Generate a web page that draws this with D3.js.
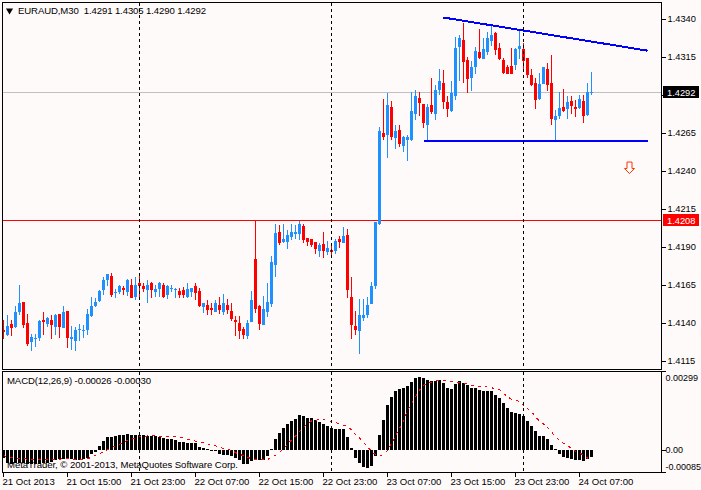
<!DOCTYPE html>
<html><head><meta charset="utf-8">
<script src="https://cdnjs.cloudflare.com/ajax/libs/d3/7.8.5/d3.min.js"></script>
<style>
html,body{margin:0;padding:0;background:#fffafa;overflow:hidden}
svg{display:block}
text{font-family:"Liberation Sans",Arial,sans-serif;font-size:9.6px;fill:#000}
.tick text{font-size:9.3px}
</style></head><body><svg id="c" width="701" height="490"></svg>
<script>
const opens=[1.41355,1.41322,1.41395,1.41375,1.41474,1.41539,1.41401,1.41276,1.41298,1.41303,
1.41421,1.41395,1.41421,1.41375,1.41460,1.41368,1.41480,1.41296,1.41283,1.41355,
1.41349,1.41355,1.41447,1.41513,1.41546,1.41618,1.41684,1.41710,1.41598,1.41605,
1.41631,1.41605,1.41651,1.41572,1.41664,1.41644,1.41618,1.41664,1.41605,1.41625,
1.41651,1.41585,1.41625,1.41618,1.41612,1.41615,1.41571,1.41604,1.41644,1.41611,
1.41506,1.41519,1.41499,1.41473,1.41519,1.41473,1.41519,1.41479,1.41420,1.41401,
1.41361,1.41315,1.41407,1.41821,1.41512,1.41387,1.41473,1.41525,1.41782,1.41998,
1.41933,1.41933,1.41966,1.41985,1.41985,1.42038,1.41959,1.41952,1.41933,1.41874,
1.41920,1.41867,1.41880,1.41874,1.41952,1.41926,1.41979,1.41571,1.41381,1.41348,
1.41433,1.41453,1.41525,1.41644,1.42051,1.42651,1.42638,1.42822,1.42618,1.42671,
1.42565,1.42605,1.42605,1.42776,1.42881,1.42841,1.42703,1.42835,1.42776,1.42933,
1.42979,1.42855,1.42795,1.42894,1.43216,1.43262,1.43130,1.43012,1.43085,1.43183,
1.43137,1.43183,1.43255,1.43308,1.43209,1.43130,1.43085,1.43091,1.43098,1.43203,
1.43203,1.43144,1.43032,1.42979,1.42874,1.42973,1.43071,1.42979,1.42736,1.42763,
1.42822,1.42809,1.42861,1.42822,1.42815,1.42861,1.42769,1.42910];
const highs=[1.41421,1.41454,1.41421,1.41513,1.41651,1.41539,1.41460,1.41329,1.41329,1.41421,
1.41474,1.41441,1.41454,1.41460,1.41460,1.41513,1.41480,1.41382,1.41375,1.41395,
1.41388,1.41493,1.41572,1.41566,1.41618,1.41704,1.41723,1.41730,1.41625,1.41651,
1.41644,1.41690,1.41690,1.41704,1.41723,1.41664,1.41684,1.41671,1.41651,1.41671,
1.41664,1.41651,1.41651,1.41631,1.41631,1.41635,1.41661,1.41631,1.41661,1.41628,
1.41532,1.41552,1.41532,1.41552,1.41571,1.41591,1.41558,1.41532,1.41447,1.41447,
1.41374,1.41420,1.41611,1.42073,1.41519,1.41578,1.41663,1.41841,1.42051,1.42044,
1.42051,1.42012,1.42051,1.42044,1.42071,1.42051,1.41959,1.41952,1.41933,1.41926,
1.41998,1.41939,1.41906,1.41952,1.41972,1.42031,1.42018,1.41703,1.41479,1.41558,
1.41558,1.41571,1.41670,1.42064,1.42692,1.42874,1.42914,1.42861,1.42703,1.42703,
1.42631,1.42638,1.42920,1.42933,1.42920,1.42841,1.42841,1.43012,1.42966,1.43071,
1.43065,1.42894,1.42993,1.43282,1.43295,1.43374,1.43150,1.43124,1.43216,1.43334,
1.43275,1.43314,1.43360,1.43314,1.43242,1.43144,1.43098,1.43209,1.43209,1.43334,
1.43242,1.43144,1.43071,1.43012,1.43045,1.43085,1.43111,1.43163,1.42802,1.42920,
1.42940,1.42894,1.42894,1.42868,1.42901,1.42901,1.42979,1.43050];
const lows=[1.41298,1.41316,1.41316,1.41368,1.41454,1.41368,1.41246,1.41217,1.41244,1.41283,
1.41322,1.41375,1.41296,1.41322,1.41303,1.41368,1.41237,1.41224,1.41217,1.41283,
1.41303,1.41322,1.41441,1.41506,1.41539,1.41585,1.41644,1.41572,1.41566,1.41592,
1.41585,1.41579,1.41566,1.41552,1.41572,1.41605,1.41533,1.41566,1.41572,1.41572,
1.41566,1.41559,1.41605,1.41566,1.41566,1.41567,1.41567,1.41571,1.41552,1.41506,
1.41466,1.41453,1.41453,1.41473,1.41460,1.41453,1.41460,1.41414,1.41315,1.41295,
1.41295,1.41295,1.41407,1.41466,1.41355,1.41387,1.41440,1.41506,1.41703,1.41913,
1.41926,1.41887,1.41946,1.41952,1.41946,1.41926,1.41906,1.41900,1.41854,1.41834,
1.41828,1.41847,1.41841,1.41854,1.41893,1.41926,1.41565,1.41295,1.41322,1.41197,
1.41414,1.41433,1.41525,1.41624,1.42044,1.42601,1.42487,1.42605,1.42546,1.42559,
1.42526,1.42467,1.42598,1.42736,1.42763,1.42684,1.42598,1.42776,1.42736,1.42901,
1.42809,1.42756,1.42789,1.42868,1.42993,1.42979,1.42914,1.42927,1.43039,1.43137,
1.43137,1.43163,1.43222,1.43163,1.43130,1.43039,1.43039,1.43039,1.43065,1.43137,
1.43065,1.43012,1.42960,1.42809,1.42868,1.42973,1.42927,1.42703,1.42605,1.42743,
1.42789,1.42743,1.42776,1.42756,1.42809,1.42717,1.42763,1.42900];
const closes=[1.41338,1.41382,1.41368,1.41474,1.41533,1.41388,1.41263,1.41309,1.41303,1.41414,
1.41408,1.41434,1.41388,1.41454,1.41375,1.41474,1.41303,1.41309,1.41355,1.41362,
1.41355,1.41460,1.41513,1.41539,1.41612,1.41684,1.41723,1.41585,1.41605,1.41644,
1.41618,1.41684,1.41566,1.41651,1.41644,1.41625,1.41651,1.41618,1.41625,1.41664,
1.41572,1.41644,1.41631,1.41625,1.41585,1.41585,1.41624,1.41631,1.41598,1.41512,
1.41532,1.41486,1.41486,1.41532,1.41486,1.41532,1.41486,1.41427,1.41407,1.41348,
1.41322,1.41401,1.41552,1.41493,1.41394,1.41493,1.41539,1.41801,1.41992,1.41926,
1.41952,1.41979,1.41998,1.41998,1.42051,1.41946,1.41933,1.41913,1.41887,1.41913,
1.41874,1.41893,1.41867,1.41939,1.41933,1.41972,1.41617,1.41387,1.41355,1.41453,
1.41453,1.41519,1.41644,1.42064,1.42664,1.42625,1.42835,1.42625,1.42664,1.42579,
1.42625,1.42625,1.42795,1.42894,1.42848,1.42717,1.42822,1.42789,1.42933,1.42993,
1.42855,1.42809,1.42914,1.43209,1.43275,1.43117,1.43006,1.43085,1.43190,1.43144,
1.43203,1.43275,1.43295,1.43196,1.43137,1.43045,1.43039,1.43039,1.43203,1.43222,
1.43124,1.43032,1.42966,1.42868,1.42973,1.43085,1.42966,1.42743,1.42763,1.42815,
1.42795,1.42855,1.42828,1.42809,1.42874,1.42763,1.42920,1.42920];
const macdHist=[-0.00029,-0.00050,-0.00053,-0.00050,-0.00050,-0.00050,-0.00053,-0.00053,-0.00053,-0.00053,
-0.00050,-0.00047,-0.00044,-0.00038,-0.00034,-0.00032,-0.00029,-0.00034,-0.00036,-0.00036,
-0.00032,-0.00030,-0.00016,-0.00006,0.00017,0.00034,0.00050,0.00050,0.00054,0.00057,
0.00057,0.00061,0.00057,0.00057,0.00057,0.00057,0.00054,0.00053,0.00052,0.00050,
0.00048,0.00042,0.00042,0.00039,0.00032,0.00030,0.00029,0.00028,0.00028,0.00013,
0.00010,0.00003,-0.00001,-0.00004,-0.00016,-0.00017,-0.00019,-0.00021,-0.00029,-0.00038,
-0.00052,-0.00053,-0.00042,-0.00034,-0.00037,-0.00037,-0.00023,0.00006,0.00042,0.00064,
0.00084,0.00099,0.00111,0.00120,0.00132,0.00129,0.00124,0.00124,0.00114,0.00107,
0.00099,0.00091,0.00084,0.00080,0.00080,0.00080,0.00050,0.00010,-0.00030,-0.00050,
-0.00064,-0.00067,-0.00061,-0.00024,0.00057,0.00114,0.00171,0.00201,0.00224,0.00232,
0.00238,0.00243,0.00260,0.00274,0.00277,0.00273,0.00266,0.00263,0.00264,0.00266,
0.00257,0.00238,0.00233,0.00250,0.00263,0.00257,0.00247,0.00236,0.00236,0.00228,
0.00224,0.00224,0.00224,0.00211,0.00197,0.00179,0.00162,0.00144,0.00140,0.00137,
0.00129,0.00110,0.00091,0.00073,0.00053,0.00053,0.00042,0.00019,0.00003,-0.00016,
-0.00027,-0.00030,-0.00034,-0.00037,-0.00037,-0.00042,-0.00032,-0.00026];
const macdSignal=[-0.00021,-0.00024,-0.00027,-0.00029,-0.00032,-0.00033,-0.00034,-0.00036,-0.00036,-0.00037,
-0.00037,-0.00037,-0.00036,-0.00036,-0.00034,-0.00033,-0.00033,-0.00034,-0.00036,-0.00036,
-0.00036,-0.00033,-0.00027,-0.00020,-0.00014,-0.00006,0.00001,0.00009,0.00016,0.00023,
0.00030,0.00037,0.00042,0.00047,0.00050,0.00053,0.00054,0.00054,0.00054,0.00053,
0.00052,0.00052,0.00050,0.00050,0.00048,0.00046,0.00042,0.00038,0.00034,0.00030,
0.00028,0.00024,0.00019,0.00016,0.00011,0.00007,0.00003,-0.00001,-0.00009,-0.00016,
-0.00021,-0.00027,-0.00033,-0.00036,-0.00036,-0.00037,-0.00036,-0.00027,-0.00019,-0.00010,
0.00006,0.00021,0.00039,0.00054,0.00070,0.00086,0.00101,0.00111,0.00114,0.00116,
0.00116,0.00113,0.00109,0.00106,0.00100,0.00095,0.00090,0.00077,0.00058,0.00047,
0.00029,0.00013,-0.00004,-0.00017,-0.00021,-0.00017,0.00000,0.00026,0.00053,0.00083,
0.00110,0.00152,0.00177,0.00203,0.00228,0.00247,0.00254,0.00257,0.00263,0.00263,
0.00264,0.00263,0.00260,0.00257,0.00256,0.00253,0.00251,0.00247,0.00244,0.00243,
0.00242,0.00240,0.00237,0.00234,0.00230,0.00216,0.00203,0.00194,0.00190,0.00184,
0.00169,0.00157,0.00146,0.00127,0.00111,0.00099,0.00086,0.00070,0.00050,0.00038,
0.00026,0.00017,0.00006,-0.00004,-0.00010,-0.00019,-0.00030,-0.00030];
const priceTicks=[1.4340,1.4315,1.4290,1.4265,1.4240,1.4215,1.4190,1.4165,1.4140,1.4115];
const macdTicks=[0.00299,0,-0.00085];
const macdTickLabels=["0.00299","0.00","-0.00085"];
const timeTickBars=[0,16,32,48,64,80,96,112,128,144];
const timeTickLabels=["21 Oct 2013","21 Oct 15:00","21 Oct 23:00","22 Oct 07:00","22 Oct 15:00","22 Oct 23:00","23 Oct 07:00","23 Oct 15:00","23 Oct 23:00","24 Oct 07:00"];
const daySeparators=[34,82,130];
const lastPrice=1.4292, levelPrice=1.4208;
const trendBars=[110,161], trendPrices=[1.43413,1.43195];
const supportBars=[105,161], supportPrice=1.42600;
const arrowBar=156.5, arrowPrice=1.42426;
const titleText="EURAUD,M30  1.4291 1.4305 1.4290 1.4292";
const macdText="MACD(12,26,9) -0.00026 -0.00030";
const copyText="MetaTrader, \u00A9 2001-2013, MetaQuotes Software Corp.";

const BG="#fffafa",BLUE="#1e90ff",RED="#ff0000";
const svg=d3.select("#c");
const L=2.5,R=661.5,T1=2.5,B1=369.5,T2=371.5,B2=472.5;
const x=d3.scaleLinear().domain([0,147]).range([3.5,591.5]);
const y=d3.scaleLinear().domain([1.4340,1.4115]).range([19.5,361.5]);
const m=d3.scaleLinear().domain([0.00299,-0.00085]).range([T2,B2]);
svg.append("rect").attr("width",701).attr("height",490).attr("fill",BG);
const defs=svg.append("defs");
defs.append("clipPath").attr("id","p1").append("rect").attr("x",L).attr("y",T1).attr("width",R-L).attr("height",B1-T1);
defs.append("clipPath").attr("id","p2").append("rect").attr("x",L).attr("y",T2).attr("width",R-L).attr("height",B2-T2);
const g1=svg.append("g").attr("clip-path","url(#p1)").attr("shape-rendering","crispEdges");
const g2=svg.append("g").attr("clip-path","url(#p2)").attr("shape-rendering","crispEdges");

// horizontal levels
g1.append("line").attr("x1",L).attr("x2",R).attr("y1",y(lastPrice)).attr("y2",y(lastPrice)).attr("stroke","#c0c0c0");
g1.append("line").attr("x1",L).attr("x2",R).attr("y1",y(levelPrice)).attr("y2",y(levelPrice)).attr("stroke","#ff0000");

// candles
const idx=d3.range(opens.length);
const col=i=>closes[i]>=opens[i]?BLUE:RED;
g1.selectAll("rect.w").data(idx).join("rect").attr("class","w")
 .attr("x",i=>x(i)-0.5).attr("width",1)
 .attr("y",i=>Math.floor(y(highs[i]))).attr("height",i=>Math.max(1,Math.floor(y(lows[i]))-Math.floor(y(highs[i]))))
 .attr("fill",col);
g1.selectAll("rect.b").data(idx).join("rect").attr("class","b")
 .attr("x",i=>x(i)-1.5).attr("width",3)
 .attr("y",i=>Math.floor(y(Math.max(opens[i],closes[i]))))
 .attr("height",i=>Math.max(1,Math.floor(y(Math.min(opens[i],closes[i])))-Math.floor(y(Math.max(opens[i],closes[i])))))
 .attr("fill",col);

// trend lines
g1.append("line").attr("x1",x(trendBars[0])).attr("y1",y(trendPrices[0])).attr("x2",x(trendBars[1])).attr("y2",y(trendPrices[1])).attr("stroke","#0000ff").attr("stroke-width",2);
g1.append("line").attr("x1",x(supportBars[0])).attr("y1",y(supportPrice)).attr("x2",x(supportBars[1])).attr("y2",y(supportPrice)).attr("stroke","#0000ff").attr("stroke-width",2);

// arrow
svg.append("path").attr("transform",`translate(${x(arrowBar)},${y(arrowPrice)})`)
 .attr("d","M-2.5,-5.5H2.5V1H5L0,6L-5,1H-2.5Z").attr("fill","#ffffff").attr("stroke","#ff3000").attr("stroke-width",1);

// MACD
svg.append("text").attr("x",7).attr("y",384).attr("textLength",144).text(macdText);
svg.append("text").attr("x",7).attr("y",468).attr("textLength",231).text(copyText);
g2.selectAll("rect.h").data(idx).join("rect").attr("class","h")
 .attr("x",i=>x(i)-1.5).attr("width",3)
 .attr("y",i=>Math.min(m(0),m(macdHist[i]))).attr("height",i=>Math.max(0.6,Math.abs(m(macdHist[i])-m(0))))
 .attr("fill","#000");
svg.append("path").attr("clip-path","url(#p2)").attr("shape-rendering","crispEdges").attr("fill","none").attr("stroke","#ff0000").attr("stroke-width",1).attr("stroke-dasharray","3 4")
 .attr("d",d3.line().x(i=>x(i)).y(i=>m(macdSignal[i]))(idx));

// separators
[[T1,B1],[T2,B2]].forEach(r=>{
 svg.selectAll(null).data(daySeparators).join("line").attr("shape-rendering","crispEdges")
  .attr("x1",d=>x(d)).attr("x2",d=>x(d)).attr("y1",r[0]).attr("y2",r[1])
  .attr("stroke","#000").attr("stroke-dasharray","3 3");
});

// frames
svg.append("g").attr("shape-rendering","crispEdges").attr("fill","none").attr("stroke","#000")
 .selectAll("rect").data([[T1,B1],[T2,B2]]).join("rect")
 .attr("x",L).attr("y",d=>d[0]).attr("width",R-L).attr("height",d=>d[1]-d[0]);

// axes
const ax1=svg.append("g").attr("transform",`translate(${R},0)`).attr("shape-rendering","crispEdges")
 .call(d3.axisRight(y).tickValues(priceTicks).tickFormat(d3.format(".4f")).tickSize(4).tickPadding(2).offset(0));
ax1.select(".domain").remove();
ax1.selectAll(".tick text").attr("dy","0.28em");
const ax2=svg.append("g").attr("transform",`translate(${R},0)`).attr("shape-rendering","crispEdges")
 .call(d3.axisRight(m).tickValues(macdTicks).tickFormat((d,i)=>macdTickLabels[i]).tickSize(4).tickPadding(0).offset(0));
ax2.select(".domain").remove();
ax2.selectAll(".tick text").attr("dy","0.32em").style("font-size","9px");
ax2.selectAll(".tick text").filter((d,i)=>i==0).attr("dy","1.0em");
ax2.selectAll(".tick text").filter((d,i)=>i==2).attr("dy","-0.3em");
const ax3=svg.append("g").attr("transform",`translate(0,${B2})`).attr("shape-rendering","crispEdges")
 .call(d3.axisBottom(x).tickValues(timeTickBars).tickFormat((d,i)=>timeTickLabels[i]).tickSize(4).tickPadding(2).offset(0));
ax3.select(".domain").remove();
ax3.selectAll(".tick text").attr("text-anchor","start").attr("dx",-1).style("font-size","9.6px");
svg.selectAll(".tick text").attr("font-size",null).attr("font-family",null);

// price boxes
[[lastPrice,"#000","#fff"],[levelPrice,"#ff0000","#fff"]].forEach(b=>{
 svg.append("rect").attr("shape-rendering","crispEdges").attr("x",663).attr("y",Math.floor(y(b[0]))-6).attr("width",36).attr("height",12).attr("fill",b[1]);
 svg.append("text").attr("x",667).attr("y",y(b[0])+3.5).style("fill",b[2]).style("font-size","9.3px").text(d3.format(".4f")(b[0]));
});

// title
svg.append("path").attr("d",d3.symbol(d3.symbolTriangle,22)()).attr("transform","translate(9.5,10.5) rotate(180)").attr("fill","#000");
svg.append("text").attr("x",18).attr("y",14).attr("textLength",188).style("white-space","pre").text(titleText);
</script></body></html>
